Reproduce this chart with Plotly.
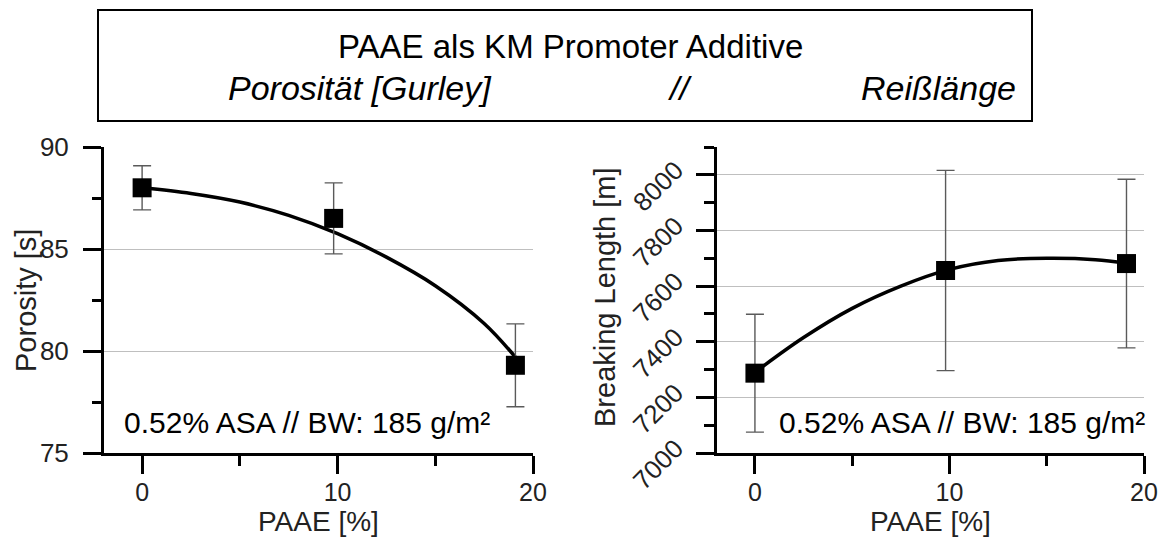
import plotly.graph_objects as go

# ---------------- data ----------------
paae = [0, 9.8, 19.1]
porosity = [88.0, 86.5, 79.3]
porosity_err = [1.08, 1.74, 2.03]
breaking = [7287, 7656, 7681]
breaking_err = [212, 360, 303]

fit_x = [0, 2.5, 5, 7.5, 10, 12.5, 15, 17.5, 19.1]
porosity_fit = [88.0, 87.72, 87.3, 86.65, 85.75, 84.6, 83.2, 81.35, 79.7]
breaking_fit = [7290, 7415, 7520, 7600, 7660, 7692, 7700, 7695, 7682]

x_ticks = [0, 10, 20]
por_ticks = [75, 80, 85, 90]
br_ticks = [7000, 7200, 7400, 7600, 7800, 8000]

title1 = "PAAE als KM Promoter Additive"
title2 = ["Porosität [Gurley]", "//", "Reißlänge"]
x_title = "PAAE [%]"
y_titles = ["Porosity [s]", "Breaking Length [m]"]
note = "0.52% ASA // BW: 185 g/m²"

FONT = "Liberation Sans, Arial, sans-serif"
W, H = 1163, 537


def px(v):
    return v / W


def py(v):
    return (H - v) / H


fig = go.Figure()

for xa, ya, y, err, fit in [("x", "y", porosity, porosity_err, porosity_fit),
                            ("x2", "y2", breaking, breaking_err, breaking_fit)]:
    fig.add_trace(go.Scatter(
        x=fit_x, y=fit, xaxis=xa, yaxis=ya, mode="lines",
        line=dict(color="black", width=3.5, shape="spline", smoothing=1),
        showlegend=False, hoverinfo="skip"))
    fig.add_trace(go.Scatter(
        x=paae, y=y, xaxis=xa, yaxis=ya, mode="markers",
        marker=dict(symbol="square", size=19, color="black"),
        error_y=dict(type="data", array=err, visible=True, color="#5a5a5a",
                     thickness=1.4, width=9),
        showlegend=False))

ydom = [py(453), py(147)]
common_x = dict(
    range=[-1.95, 20], tickvals=x_ticks, showline=True, linewidth=3, linecolor="black",
    ticks="outside", ticklen=18, tickwidth=3, tickcolor="black",
    minor=dict(dtick=5, tick0=0, ticks="outside", ticklen=10, tickwidth=3, tickcolor="black"),
    showgrid=False, zeroline=False, automargin=False, ticklabelstandoff=-3,
    tickfont=dict(family=FONT, size=25, color="#222222"),
)
common_y = dict(
    showline=True, linewidth=3, linecolor="black",
    ticks="outside", ticklen=18, tickwidth=3, tickcolor="black",
    showgrid=True, gridcolor="#bfbfbf", gridwidth=1.3, zeroline=False, automargin=False,
    tickfont=dict(family=FONT, size=26, color="#222222"),
)

fig.update_layout(
    width=W, height=H, margin=dict(l=0, r=0, t=0, b=0, autoexpand=False),
    paper_bgcolor="white", plot_bgcolor="white",
    xaxis=dict(domain=[px(104), px(533)], anchor="y", **common_x),
    xaxis2=dict(domain=[px(717), px(1144)], anchor="y2", **common_x),
    yaxis=dict(domain=ydom, anchor="x", range=[75, 90], tickvals=por_ticks,
               ticklabelstandoff=9,
               minor=dict(dtick=2.5, tick0=75, ticks="outside", ticklen=9, tickwidth=3, tickcolor="black"),
               **common_y),
    yaxis2=dict(domain=ydom, anchor="x2", range=[7000, 8100], tickvals=br_ticks, tickangle=-45,
                ticklabelstandoff=15, ticklabelshift=-8,
                minor=dict(dtick=100, tick0=7000, ticks="outside", ticklen=10, tickwidth=3, tickcolor="black"),
                **common_y),
    shapes=[dict(type="rect", xref="paper", yref="paper",
                 x0=px(98), x1=px(1032), y0=py(121), y1=py(10),
                 line=dict(color="black", width=2), fillcolor="rgba(0,0,0,0)")],
)


def add_text(text, x, y, size, angle=0, color="black"):
    fig.add_annotation(text=text, x=px(x), y=py(y), xref="paper", yref="paper",
                       xanchor="center", yanchor="middle", showarrow=False, textangle=angle,
                       font=dict(family=FONT, size=size, color=color))


add_text(title1, 570, 46, 33)
add_text(f"<i>{title2[0]}</i>", 360, 88, 34)
add_text(f"<i>{title2[1]}</i>", 680, 88, 34)
add_text(f"<i>{title2[2]}</i>", 938, 88, 34)

add_text(note, 307, 422, 30)
add_text(note, 962, 422, 30)

add_text(x_title, 318, 521, 28, color="#222222")
add_text(x_title, 930, 521, 28, color="#222222")
add_text(y_titles[0], 26, 301, 29, angle=-90, color="#222222")
add_text(y_titles[1], 605, 297, 29, angle=-90, color="#222222")

fig.write_html("out.html", config={"displayModeBar": False},
               post_script="document.body.style.margin='0px';")
